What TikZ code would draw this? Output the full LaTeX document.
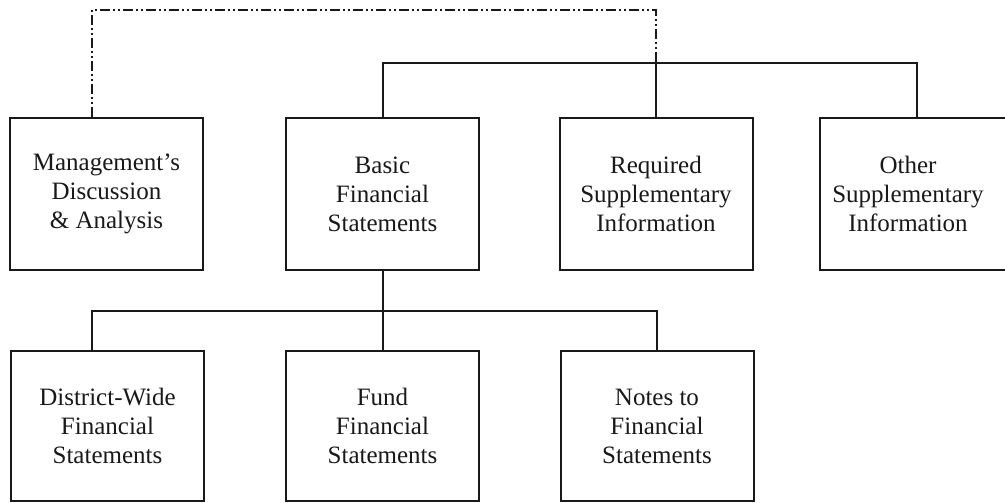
\documentclass[tikz,border=0pt]{standalone}
\usepackage{fontspec}
\setmainfont{Liberation Serif}
\begin{document}
\begin{tikzpicture}[x=1pt,y=-1pt,
  box/.style={draw=black!90, line width=2pt, minimum width=193pt, minimum height=152pt,
    align=center, inner sep=0pt, font=\fontsize{25}{29}\selectfont, text=black!90},
  conn/.style={draw=black!90, line width=2pt},
  dashconn/.style={draw=black!90, line width=2pt,
    dash pattern=on 10pt off 3pt on 2pt off 3pt on 2pt off 3pt}]
\useasboundingbox (0,0) rectangle (1005,503);
\clip (0,0) rectangle (1005,503);
\fill[white] (0,0) rectangle (1005,503);
\node[box] (b1) at (106.5,194) {Management's\\Discussion\\\& Analysis};
\node[box] (b2) at (382.5,194) {Basic\\Financial\\Statements};
\node[box] (b3) at (656,194) {Required\\Supplementary\\Information};
\node[box] (b4) at (916.5,194) {};
\node[font=\fontsize{25}{29}\selectfont, align=center, text=black!90] (t4) at (908,194) {Other\\Supplementary\\Information};
\node[box, minimum height=150pt] (b5) at (107.5,426) {District-Wide\\Financial\\Statements};
\node[box, minimum height=150pt] (b6) at (382.5,426) {Fund\\Financial\\Statements};
\node[box, minimum height=150pt] (b7) at (657,426) {Notes to\\Financial\\Statements};
% connector coordinates
\path (b1.north) ++(-14.5,0) coordinate (c1top);
\coordinate (dtop) at (383,10);
\coordinate (stop) at (383,63);
\coordinate (sbot) at (383,311);
\path (b5.north -| c1top) coordinate (c5top);
% dashed link MD&A to RSI
\draw[dashconn] (c1top) |- (dtop) -| (b3.north);
% solid top
\draw[conn] (b2.north) |- (stop) -| (b4.north);
\draw[conn] (b3.north) -- (b3.north |- stop);
% bottom tree
\draw[conn] (b2.south) -- (b6.north);
\draw[conn] (c5top) |- (sbot) -| (b7.north);
\end{tikzpicture}
\end{document}
